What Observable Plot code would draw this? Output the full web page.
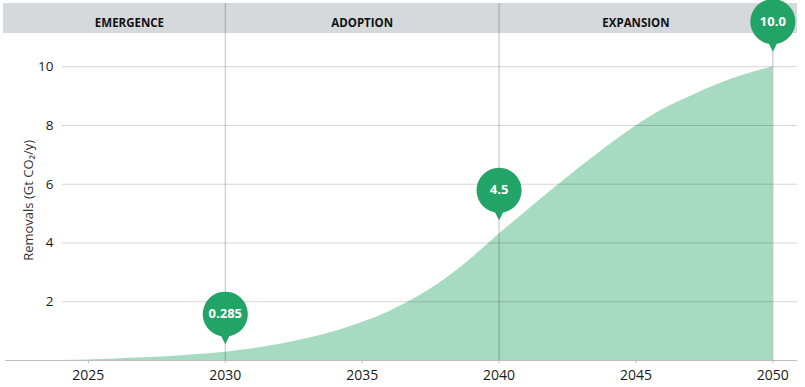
<!DOCTYPE html>
<html>
<head>
<meta charset="utf-8">
<script src="https://cdn.jsdelivr.net/npm/d3@7"></script>
<script src="https://cdn.jsdelivr.net/npm/@observablehq/plot@0.6"></script>
<style>
  html, body { margin: 0; padding: 0; background: #fff; }
  #chart svg { display: block; }
</style>
</head>
<body>
<div id="chart"></div>
<script>
// ---- data ----
const years = [2024, 2025, 2026, 2027, 2028, 2029, 2030, 2031, 2032, 2033, 2034, 2035, 2036, 2037,
               2038, 2039, 2040, 2041, 2042, 2043, 2044, 2045, 2046, 2047, 2048, 2049, 2050];
const removals = [0, 0.02, 0.05, 0.09, 0.14, 0.2, 0.285, 0.4, 0.55, 0.75, 0.99, 1.29, 1.67, 2.15,
                  2.75, 3.48, 4.3, 5.08, 5.85, 6.6, 7.32, 7.98, 8.55, 8.99, 9.4, 9.73, 10.0];
const pinYears = [2030, 2040, 2050];
const pinValues = [0.285, 4.5, 10.0];
const pinLabels = ["0.285", "4.5", "10.0"];
const phaseNames = ["EMERGENCE", "ADOPTION", "EXPANSION"];
const phaseStarts = [2023, 2030, 2040];
const phaseEnds = [2030, 2040, 2050];
const xTicks = [2025, 2030, 2035, 2040, 2045, 2050];
const yTicks = [2, 4, 6, 8, 10];
const yLabel = "Removals (Gt CO\u2082/y)";

// ---- tables ----
const series = years.map((year, i) => ({year, value: removals[i]}));
const pins = pinYears.map((year, i) => ({year, value: pinValues[i], label: pinLabels[i]}));
const phases = phaseNames.map((name, i) => ({name, start: phaseStarts[i], end: phaseEnds[i], mid: (phaseStarts[i] + phaseEnds[i]) / 2}));

// pin shape: tip at (0,0), circle centred 30px above
const R = 22.5, C = 30, W = 4;
const pinSymbol = {
  draw(ctx) {
    const yy = Math.sqrt(R * R - W * W);
    const a1 = Math.atan2(yy, W), a2 = Math.atan2(yy, -W);
    ctx.moveTo(0, 0);
    ctx.lineTo(W, -C + yy);
    ctx.arc(0, -C, R, a1, a2 - 2 * Math.PI, true);
    ctx.closePath();
  }
};

const green = "#21a465";
const areaFill = "#a7dbc1";
const ruleColor = "#000";

const chart = Plot.plot({
  width: 805,
  height: 387,
  marginLeft: 3,
  marginRight: 8,
  marginTop: 3,
  marginBottom: 27,
  x: {domain: [2021.9, 2050.9], axis: null},
  y: {domain: [0, 12.15], axis: null},
  style: {fontFamily: "'Open Sans', 'Noto Sans', sans-serif", background: "#fff"},
  marks: [
    // header band
    Plot.rect({length: 1}, {fill: "#d5d9dc", insetBottom: 327}),
    Plot.text(phases, {x: "mid", text: "name", frameAnchor: "top", dy: 15, fontWeight: "bold", fontSize: 11.5, fill: "#111"}),
    // area
    Plot.areaY(series, {x: "year", y: "value", fill: areaFill, curve: "monotone-x"}),
    // horizontal grid (over the area, translucent)
    Plot.ruleY(yTicks, {x1: 2024.05, x2: 2050.9, stroke: ruleColor, strokeOpacity: 0.17, strokeWidth: 1}),
    // phase boundary rules
    Plot.ruleX(phaseEnds, {stroke: ruleColor, strokeOpacity: 0.25, strokeWidth: 1}),
    // baseline
    Plot.ruleY([0], {x1: 2021.97, x2: 2050.9, stroke: "#bdbdbd", strokeWidth: 1.2}),
    // x axis
    Plot.axisX({ticks: xTicks, tickFormat: () => "", tickSize: 3, stroke: "#bdbdbd", label: null}),
    Plot.axisX({ticks: xTicks, tickFormat: d => String(d), tickSize: 0, tickPadding: 10, fontSize: 14, fill: "#1a1a1a", label: null}),
    // y tick labels
    Plot.text(yTicks, {y: d => d, text: d => String(d), frameAnchor: "left", textAnchor: "end", dx: 50, fontSize: 13.5, fill: "#1a1a1a"}),
    // y label
    Plot.text([yLabel], {y: 5.45, text: d => d, frameAnchor: "left", textAnchor: "middle", dx: 25, rotate: -90, fontSize: 13, fill: "#333"}),
    // pins
    Plot.dot(pins.slice(0, 2), {x: "year", y: "value", symbol: pinSymbol, fill: green, stroke: null, dy: -8}),
    Plot.text(pins.slice(0, 2), {x: "year", y: "value", text: "label", dy: -38, fill: "#fff", fontWeight: "bold", fontSize: 13}),
    Plot.dot(pins.slice(2), {x: "year", y: "value", symbol: pinSymbol, fill: green, stroke: null, dy: -15}),
    Plot.text(pins.slice(2), {x: "year", y: "value", text: "label", dy: -45, fill: "#fff", fontWeight: "bold", fontSize: 13})
  ]
});
document.getElementById("chart").appendChild(chart);
</script>
</body>
</html>
